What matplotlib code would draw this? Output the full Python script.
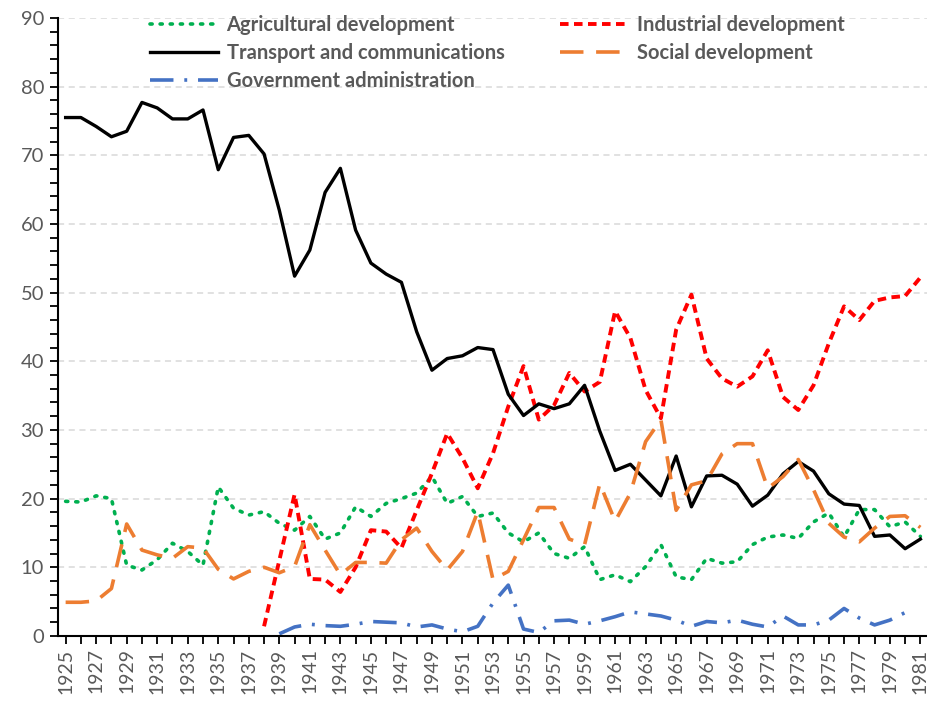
import numpy as np
import matplotlib
matplotlib.use("Agg")
import matplotlib.pyplot as plt
from matplotlib.ticker import MultipleLocator

years = np.arange(1925, 1982)

agricultural = [19.6, 19.5, 20.4, 20.0, 10.3, 9.6, 11.1, 13.5, 12.3, 10.3,
                21.7, 18.6, 17.6, 18.1, 16.4, 15.4, 17.4, 14.1, 15.0, 18.8,
                17.4, 19.3, 20.0, 20.8, 23.2, 19.3, 20.3, 17.4, 17.9, 15.0,
                13.7, 15.0, 12.0, 11.3, 13.0, 8.2, 8.9, 7.9, 10.1, 13.3,
                8.6, 8.2, 11.3, 10.6, 10.8, 13.3, 14.4, 14.7, 14.2, 16.6,
                17.9, 14.4, 18.4, 18.4, 15.9, 16.6, 14.5]

industrial = [np.nan] * 13 + [
    1.4, 11.0, 20.6, 8.3, 8.2, 6.4, 10.0, 15.4, 15.2, 12.8,
    18.3, 23.7, 29.5, 25.9, 21.5, 26.6, 33.4, 39.3, 31.5, 33.6,
    38.3, 35.6, 37.0, 47.3, 43.4, 35.8, 31.7, 44.6, 49.7, 40.4,
    37.5, 36.3, 37.8, 41.6, 34.8, 32.9, 36.5, 42.6, 48.0, 46.0,
    48.8, 49.3, 49.5, 52.2]

transport = [75.5, 75.5, 74.2, 72.7, 73.5, 77.7, 76.9, 75.3, 75.3, 76.6,
             67.9, 72.6, 72.9, 70.2, 62.0, 52.4, 56.2, 64.6, 68.1, 59.1,
             54.3, 52.7, 51.5, 44.3, 38.7, 40.4, 40.8, 42.0, 41.7, 35.2,
             32.1, 33.8, 33.1, 33.8, 36.5, 29.8, 24.1, 25.0, 22.7, 20.4,
             26.2, 18.8, 23.3, 23.4, 22.1, 18.9, 20.5, 23.6, 25.4, 24.0,
             20.7, 19.2, 19.0, 14.5, 14.7, 12.7, 14.1]

social = [4.9, 4.9, 5.1, 6.9, 16.3, 12.5, 11.8, 11.3, 13.0, 12.8,
          9.7, 8.3, 9.4, 10.0, 9.2, 10.1, 16.2, 12.5, 8.9, 10.7,
          10.7, 10.6, 14.0, 15.7, 12.3, 9.6, 12.3, 18.1, 8.2, 9.4,
          14.0, 18.7, 18.7, 14.1, 13.3, 22.2, 16.7, 20.8, 28.3, 31.5,
          18.3, 22.0, 22.6, 26.5, 28.0, 28.0, 21.5, 23.2, 25.7, 21.3,
          16.4, 14.4, 13.7, 15.7, 17.4, 17.5, 15.8]

government = [np.nan] * 14 + [
    0.3, 1.3, 1.7, 1.5, 1.4, 1.7, 2.1, 2.0, 1.9, 1.3,
    1.6, 1.0, 0.6, 1.4, 4.8, 7.4, 1.0, 0.5, 2.2, 2.3,
    1.7, 2.2, 2.8, 3.5, 3.2, 2.9, 2.3, 1.4, 2.1, 1.9,
    2.3, 1.7, 1.3, 2.9, 1.6, 1.6, 2.3, 4.0, 2.6, 1.6,
    2.3, 3.4, np.nan]

plt.rcParams['font.family'] = ['Lato', 'DejaVu Sans']
grey = '#595959'

fig = plt.figure(figsize=(9.28, 7.05), dpi=100)
ax = fig.add_axes([0.0625, 0.098, 0.9375, 0.8765])

l_agr, = ax.plot(years, agricultural, color='#00b050', lw=2.6,
                 linestyle=(0, (0.6, 2.2)), dash_capstyle='round',
                 label='Agricultural development')
l_ind, = ax.plot(years, industrial, color='#ff0000', lw=2.8,
                 linestyle=(0, (2.2, 1.4)), label='Industrial development')
l_tr, = ax.plot(years, transport, color='black', lw=2.4,
                label='Transport and communications')
l_soc, = ax.plot(years, social, color='#ed7d31', lw=2.6,
                 linestyle=(0, (6.5, 3.5)), label='Social development')
l_gov, = ax.plot(years, government, color='#4472c4', lw=2.6,
                 linestyle=(0, (6.5, 3.0, 0.8, 3.0)),
                 label='Government administration')

ax.set_xlim(1924.5, 1981.5)
ax.set_ylim(0, 90)
ax.set_xticks(years[::2])
ax.xaxis.set_minor_locator(MultipleLocator(1))
ax.yaxis.set_major_locator(MultipleLocator(10))
ax.yaxis.set_minor_locator(MultipleLocator(2))
ax.tick_params(axis='x', which='both', direction='out', length=6, width=1.3,
               labelrotation=90, labelsize=14, labelcolor=grey, pad=3)
ax.tick_params(axis='y', which='both', direction='out', length=6, width=1.3,
               labelsize=14.5, labelcolor=grey, pad=4)

for v in range(10, 91, 10):
    ax.axhline(v, color='#d9d9d9', lw=1.1, linestyle=(0, (4, 3)), zorder=0)

for s in ['top', 'right']:
    ax.spines[s].set_visible(False)
for s in ['left', 'bottom']:
    ax.spines[s].set_linewidth(1.5)

leg_kw = dict(frameon=False, handlelength=3.4, handletextpad=0.4,
              labelspacing=0.4, borderaxespad=0, borderpad=0,
              prop={'weight': 'bold', 'size': 14.5})
leg1 = fig.legend(handles=[l_agr, l_tr, l_gov], loc='upper left',
                  bbox_to_anchor=(150 / 928, 1 - 15 / 705), **leg_kw)
leg2 = fig.legend(handles=[l_ind, l_soc], loc='upper left',
                  bbox_to_anchor=(560 / 928, 1 - 15 / 705), **leg_kw)
for lg in (leg1, leg2):
    for t in lg.get_texts():
        t.set_color(grey)

fig.savefig('out.png', dpi=100)
